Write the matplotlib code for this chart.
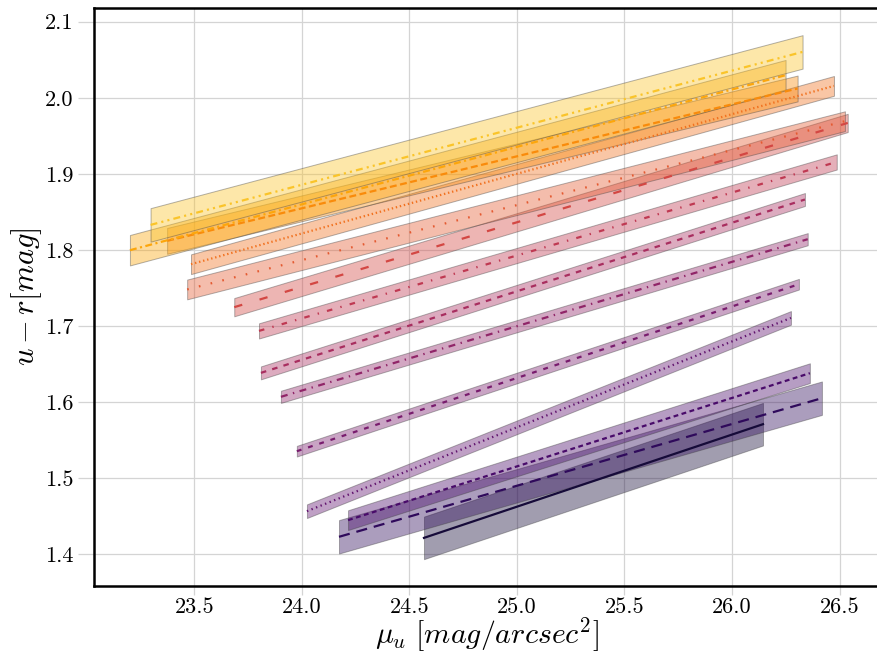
import matplotlib
matplotlib.use("Agg")
import matplotlib.pyplot as plt
import numpy as np

# colour-magnitude fits, bottom (darkest) to top (yellow)
x_start = [24.568, 24.173, 24.215, 24.024, 23.977, 23.903, 23.810,
           23.801, 23.686, 23.467, 23.485, 23.374, 23.201, 23.297]
x_end = [26.144, 26.418, 26.362, 26.274, 26.311, 26.352, 26.339,
         26.487, 26.538, 26.525, 26.474, 26.305, 26.249, 26.328]
y_start = [1.4212, 1.4226, 1.4445, 1.4563, 1.5352, 1.6067, 1.6382,
           1.6934, 1.7246, 1.7479, 1.7811, 1.8118, 1.7995, 1.8328]
y_end = [1.5707, 1.6049, 1.6378, 1.7105, 1.7548, 1.8140, 1.8662,
         1.9156, 1.9669, 1.9692, 2.0156, 2.0122, 2.0297, 2.0603]
half_width = [0.028, 0.022, 0.013, 0.009, 0.007, 0.008, 0.0085,
              0.010, 0.012, 0.013, 0.013, 0.017, 0.020, 0.022]

x_ticks = [23.5, 24.0, 24.5, 25.0, 25.5, 26.0, 26.5]
y_ticks = [1.4, 1.5, 1.6, 1.7, 1.8, 1.9, 2.0, 2.1]

linestyles = [
    "-",
    (0, (8, 5)),
    (0, (3.5, 2.5)),
    (0, (1, 2.5)),
    (0, (3.5, 5)),
    (0, (5, 4, 1, 4)),
    (0, (4, 4.5)),
    (0, (4, 6, 1, 6)),
    (0, (6, 13)),
    (0, (1.2, 7.5)),
    (0, (1, 2)),
    (0, (5, 2.5)),
    (0, (5, 2.5, 1.5, 2.5)),
    (0, (5, 3, 1.5, 3, 1.5, 3)),
]

plt.rcParams["font.family"] = "serif"
plt.rcParams["font.serif"] = ["cmr10"]
plt.rcParams["mathtext.fontset"] = "cm"
plt.rcParams["axes.formatter.use_mathtext"] = True
plt.rcParams["lines.scale_dashes"] = False

fig = plt.figure(figsize=(8.78, 6.56), dpi=100)
ax = fig.add_axes([94 / 878, 70.3 / 656, 786 / 878, 578.2 / 656])

colors = plt.cm.inferno(np.linspace(0.1, 0.86, len(x_start)))

for i in range(len(x_start)):
    xs = np.array([x_start[i], x_end[i]])
    ys = np.array([y_start[i], y_end[i]])
    ax.fill_between(xs, ys - half_width[i], ys + half_width[i],
                    facecolor=colors[i], edgecolor=(0.25, 0.25, 0.25), alpha=0.4, lw=0.7)
    ax.plot(xs, ys, color=colors[i], ls=linestyles[i], lw=1.6)

ax.set_xlim(23.034, 26.688)
ax.set_ylim(1.3583, 2.1187)
ax.set_xticks(x_ticks)
ax.set_yticks(y_ticks)
ax.set_xticklabels([f"{v:.1f}" for v in x_ticks])
ax.set_yticklabels([f"{v:.1f}" for v in y_ticks])
ax.grid(True, color="#d4d4d4", lw=0.9)
ax.set_axisbelow(True)

ax.tick_params(axis="x", length=6.7, width=0.9, color="#d4d4d4", pad=1.5, labelsize=16)
ax.tick_params(axis="y", length=11.5, width=0.9, color="#d4d4d4", pad=3, labelsize=16)

for side in ["left", "bottom", "top"]:
    ax.spines[side].set_linewidth(1.8)
    ax.spines[side].set_color("black")
ax.spines["right"].set_visible(False)

ax.set_xlabel(r"$\mu_u\ [mag/arcsec^2]$", fontsize=21.5, labelpad=-1)
ax.set_ylabel(r"$u-r [mag]$", fontsize=22, labelpad=1)

fig.savefig("out.png", dpi=100)
